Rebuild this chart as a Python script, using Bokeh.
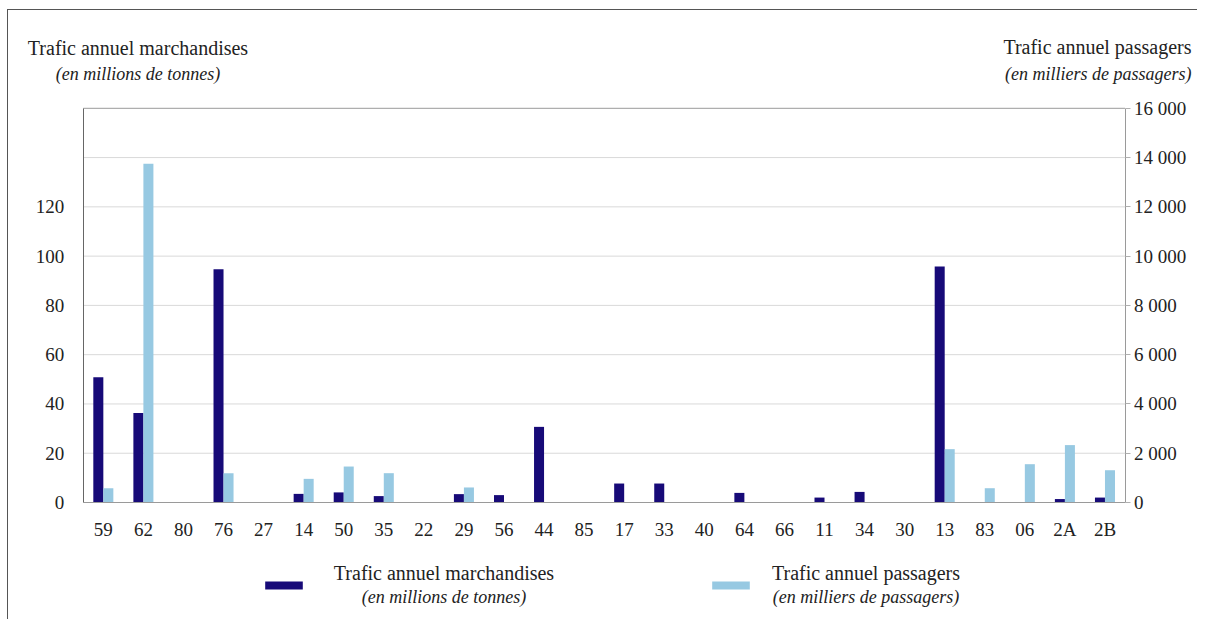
from bokeh.plotting import figure
from bokeh.models import (Range1d, LinearAxis, FixedTicker, Label,
                          Legend, LegendItem, ColumnDataSource)
from bokeh.transform import dodge
from bokeh.embed import file_html
from bokeh.resources import INLINE

# ---------------- data ----------------
departements = ["59", "62", "80", "76", "27", "14", "50", "35", "22", "29", "56", "44", "85",
                "17", "33", "40", "64", "66", "11", "34", "30", "13", "83", "06", "2A", "2B"]
marchandises = [50.8, 36.3, 0, 94.7, 0, 3.5, 4.1, 2.6, 0, 3.4, 3.0, 30.7, 0,
                7.7, 7.7, 0, 3.9, 0, 2.0, 4.3, 0, 95.8, 0, 0, 1.4, 2.0]
passagers = [580, 13750, 0, 1190, 0, 960, 1460, 1190, 0, 610, 0, 0, 0,
             0, 0, 0, 0, 0, 0, 0, 0, 2165, 580, 1555, 2330, 1310]
left_ticks = [0, 20, 40, 60, 80, 100, 120]
grid_ticks = [20, 40, 60, 80, 100, 120, 140]
left_max = 160
right_ticks = [0, 2000, 4000, 6000, 8000, 10000, 12000, 14000, 16000]
right_labels = ["0", "2 000", "4 000", "6 000", "8 000", "10 000", "12 000", "14 000", "16 000"]
right_max = 16000

# ---------------- layout (pixels) ----------------
W, H = 1190, 610
PX_L, PX_R = 74.8, 1116.5      # chart area, canvas pixels
PY_T, PY_B = 97.8, 492.0
n = len(departements)
ux = (PX_R - PX_L) / n
uy = (PY_B - PY_T) / left_max
x_start, x_end = -PX_L / ux, n + (W - PX_R) / ux
y_start, y_end = -(H - PY_B) / uy, left_max + PY_T / uy
ratio = right_max / left_max

def X(page_x):  # page pixel -> data x
    return (page_x - 8.5 - PX_L) / ux

def Y(page_y):  # page pixel -> data y (left scale)
    return (PY_B - (page_y - 10.5)) / uy

DARK = "#170a78"
LIGHT = "#97c9e2"
FONT = "Liberation Serif"
TXT = "#222222"

pos = [i + 0.5 for i in range(n)]
src = ColumnDataSource(dict(x=pos, m=marchandises, p=passagers))

p = figure(width=W, height=H, x_range=Range1d(x_start, x_end), y_range=Range1d(y_start, y_end),
           min_border=0, output_backend="svg", toolbar_location=None)
p.extra_y_ranges = {"right": Range1d(y_start * ratio, y_end * ratio)}
p.background_fill_color = "white"
p.border_fill_color = "white"
p.outline_line_color = None
p.styles = {"margin-left": "7px", "margin-top": "9px",
            "border-top": "1.5px solid #555555", "border-left": "1.5px solid #555555"}
p.xgrid.visible = False
p.ygrid.visible = False

# grid lines and top border of the chart area
p.segment(x0=0, x1=n, y0=grid_ticks, y1=grid_ticks, line_color="#d9d9d9", line_width=1)
p.segment(x0=[0], x1=[n], y0=[left_max], y1=[left_max], line_color="#9a9a9a", line_width=1)

r1 = p.vbar(x=dodge("x", -0.125), top="m", width=0.25, source=src,
            fill_color=DARK, line_color=None)
r2 = p.vbar(x=dodge("x", 0.125), top="p", width=0.25, source=src,
            fill_color=LIGHT, line_color=None, y_range_name="right")

# left axis
ya = p.yaxis[0]
ya.fixed_location = 0
ya.bounds = (0, left_max)
ya.ticker = FixedTicker(ticks=left_ticks)
ya.axis_line_color = "#666666"
ya.major_tick_line_color = None
ya.minor_tick_line_color = None
ya.major_label_standoff = 13
ya.major_label_text_font = FONT
ya.major_label_text_font_size = "19px"
ya.major_label_text_color = TXT

# right axis
ra = LinearAxis(y_range_name="right", ticker=FixedTicker(ticks=right_ticks),
                major_label_overrides={t: l for t, l in zip(right_ticks, right_labels)})
ra.fixed_location = n
ra.bounds = (0, right_max)
ra.axis_line_color = "#9a9a9a"
ra.major_tick_line_color = "#b0b0b0"
ra.major_tick_out = 5
ra.major_tick_in = 0
ra.minor_tick_line_color = None
ra.major_label_standoff = 4
ra.major_label_text_font = FONT
ra.major_label_text_font_size = "19px"
ra.major_label_text_color = TXT
p.add_layout(ra, "right")

# category axis
xa = p.xaxis[0]
xa.fixed_location = 0
xa.bounds = (0, n)
xa.ticker = FixedTicker(ticks=pos)
xa.major_label_overrides = {t: d for t, d in zip(pos, departements)}
xa.axis_line_color = "#9a9a9a"
xa.major_tick_line_color = None
xa.minor_tick_line_color = None
xa.major_label_standoff = 10
xa.major_label_text_font = FONT
xa.major_label_text_font_size = "19px"
xa.major_label_text_color = TXT

def lab(x, y, text, align, italic=False, size="20px"):
    p.add_layout(Label(x=x, y=y, text=text, text_align=align, text_baseline="alphabetic",
                       text_font=FONT, text_font_size=size,
                       text_font_style="italic" if italic else "normal",
                       text_color=TXT))

# axis titles
lab(X(138), Y(48), "Trafic annuel marchandises", "center")
lab(X(138), Y(74), "(en millions de tonnes)", "center", italic=True, size="18px")
lab(X(1191.5), Y(47), "Trafic annuel passagers", "right")
lab(X(1191.5), Y(74), "(en milliers de passagers)", "right", italic=True, size="18px")

# legend texts
lab(X(444), Y(573), "Trafic annuel marchandises", "center")
lab(X(444), Y(597), "(en millions de tonnes)", "center", italic=True, size="18px")
lab(X(866), Y(573), "Trafic annuel passagers", "center")
lab(X(866), Y(597), "(en milliers de passagers)", "center", italic=True, size="18px")

# legend swatches
for r, px in ((r1, 260.3), (r2, 707.3)):
    lg = Legend(items=[LegendItem(label=" ", renderers=[r])],
                location=(px - 8.5, H - (590.3 - 10.5)),
                glyph_width=47, glyph_height=10, label_text_font_size="1px",
                label_height=10, label_width=1, label_standoff=0, padding=0, margin=0,
                spacing=0, border_line_color=None, background_fill_alpha=0)
    p.add_layout(lg, "center")

open("out.html", "w").write(file_html(p, INLINE))
